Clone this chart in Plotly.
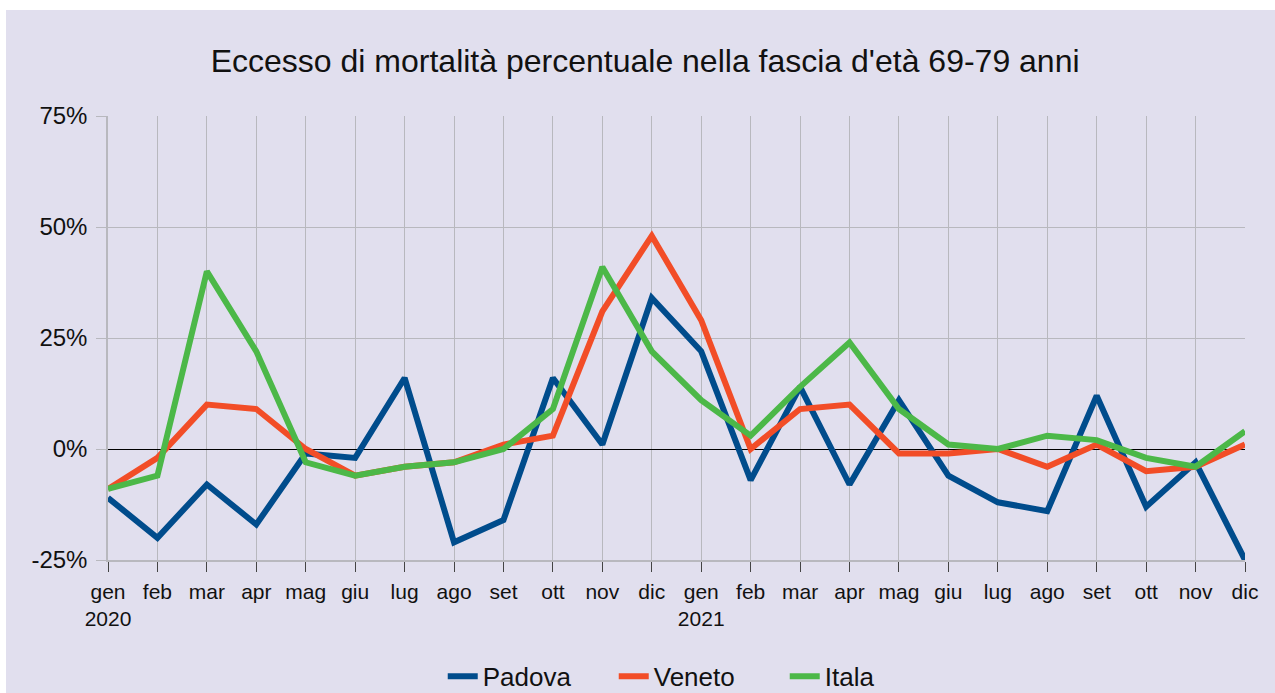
import plotly.graph_objects as go

mesi = ["gen<br>2020", "feb", "mar", "apr", "mag", "giu", "lug", "ago", "set", "ott", "nov", "dic",
        "gen<br>2021", "feb", "mar", "apr", "mag", "giu", "lug", "ago", "set", "ott", "nov", "dic"]

padova = [-11, -20, -8, -17, -1, -2, 16, -21, -16, 16, 1, 34,
          22, -7, 14, -8, 11, -6, -12, -14, 12, -13, -3, -25]
veneto = [-9, -2, 10, 9, 0, -6, -4, -3, 1, 3, 31, 48,
          29, 0, 9, 10, -1, -1, 0, -4, 1, -5, -4, 1]
italia = [-9, -6, 40, 22, -3, -6, -4, -3, 0, 9, 41, 22,
          11, 3, 14, 24, 9, 1, 0, 3, 2, -2, -4, 4]

yticks = [-25, 0, 25, 50, 75]

bg = "#e1dfee"
font = "Liberation Sans, Arial, sans-serif"
x = list(range(len(mesi)))

fig = go.Figure()
fig.add_trace(go.Scatter(x=x, y=padova, mode="lines", name="Padova",
                         line=dict(color="#004c8c", width=6)))
fig.add_trace(go.Scatter(x=x, y=veneto, mode="lines", name="Veneto",
                         line=dict(color="#f24d27", width=6)))
fig.add_trace(go.Scatter(x=x, y=italia, mode="lines", name="Itala",
                         line=dict(color="#4cb848", width=6)))

fig.update_layout(
    width=1275, height=693,
    paper_bgcolor=bg, plot_bgcolor=bg,
    font=dict(family=font, color="#111111"),
    title=dict(text="Eccesso di mortalità percentuale nella fascia d'età 69-79 anni",
               x=0.506, xanchor="center", y=0.912, yanchor="middle",
               font=dict(size=32)),
    margin=dict(l=108, r=30, t=116, b=133, autoexpand=False),
    showlegend=True,
    legend=dict(orientation="h", x=0.52, xanchor="center",
                yref="container", y=0.024, yanchor="middle",
                entrywidth=126, entrywidthmode="pixels",
                font=dict(size=26), bgcolor="rgba(0,0,0,0)"),
    shapes=[
        dict(type="rect", xref="paper", yref="paper", x0=-0.1, x1=-0.0897, y0=-0.35, y1=1.35,
             fillcolor="white", line_width=0, layer="below"),
        dict(type="rect", xref="paper", yref="paper", x0=-0.1, x1=1.1, y0=1.239, y1=1.35,
             fillcolor="white", line_width=0, layer="below"),
    ],
)

fig.update_xaxes(
    range=[0, len(mesi) - 1], tickvals=x, ticktext=mesi,
    showgrid=True, gridcolor="#b8b8be", gridwidth=1,
    ticks="outside", ticklen=10, tickcolor="#444444",
    showline=True, linecolor="#b8b8be", linewidth=1.5,
    tickfont=dict(size=21), zeroline=False, ticklabelstandoff=2,
)
fig.update_yaxes(
    range=[-25, 75], tickvals=yticks, ticktext=[f"{v}%" for v in yticks],
    showgrid=True, gridcolor="#b8b8be", gridwidth=1,
    ticks="outside", ticklen=10, tickcolor="#b8b8be",
    showline=True, linecolor="#b8b8be", linewidth=1.5,
    zeroline=True, zerolinecolor="#000000", zerolinewidth=1,
    tickfont=dict(size=24), ticklabelstandoff=4,
)

fig.write_html("out.html", config={"displayModeBar": False},
               post_script="document.body.style.margin='0';document.body.style.overflow='hidden';")
